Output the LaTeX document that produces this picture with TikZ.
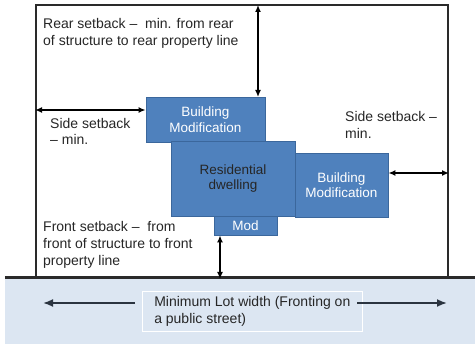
\documentclass[tikz,border=0pt]{standalone}
\usepackage{fontspec}
\setmainfont{Liberation Sans}
\usetikzlibrary{arrows.meta}

\definecolor{bldfill}{HTML}{4F81BD}
\definecolor{bldline}{HTML}{3B679C}
\definecolor{streetfill}{HTML}{DCE6F2}
\definecolor{lotline}{HTML}{2A2A2A}
\definecolor{streetarrow}{HTML}{2B3440}

\tikzset{
  bld/.style={draw=bldline, fill=bldfill, line width=0.8pt, text=white,
    align=center, inner sep=0pt, font=\fontsize{13.5}{15.5}\selectfont},
  note/.style={anchor=west, align=left, inner sep=0pt,
    font=\fontsize{14}{16.8}\selectfont, text=black!85},
  dim/.style={{Latex[length=7pt,width=6pt]}-{Latex[length=7pt,width=6pt]}, line width=1.5pt},
}

\begin{document}
\begin{tikzpicture}[x=1pt,y=-1pt]
  \useasboundingbox (0,0) rectangle (475,345);
  \node[fill=streetfill, minimum width=470, minimum height=66, inner sep=0pt] (street) at (240,310.5) {};
  \node[draw=lotline, line width=2pt, minimum width=412, minimum height=273, inner sep=0pt] (lot) at (242,141.5) {};
  \draw[lotline, line width=2.5pt] (street.north west) -- (street.north east);

  \node[bld, minimum width=119, minimum height=45] (bmtop) at (205.5,119.5) {Building\\Modification};
  \node[bld, minimum width=124, minimum height=75, text=black!85] (res) at (233,178.5) {Residential\\dwelling};
  \node[bld, minimum width=93, minimum height=64] (bmright) at (341.5,185) {Building\\Modification};
  \node[bld, minimum width=63, minimum height=19] (mod) at (245.5,225.5) {Mod};

  \node[note] (rear) at (43,33.5) {Rear setback –\ \ min. from rear\\of structure to rear property line};
  \node[note] (sidel) at (50,131.5) {Side setback\\– min.};
  \node[note] (sider) at (345,125) {Side setback –\\min.};
  \node[note] (front) at (43,245) {Front setback –\ \ from\\front of structure to front\\property line};
  \node[note, draw=white, line width=0.6pt, inner xsep=6pt, minimum width=220, minimum height=40] (width) at (142,311)
    {Minimum Lot width (Fronting on\\a public street)};

  \coordinate (rtop) at (258,5);
  \coordinate (rbot) at (258,97);
  \draw[dim] (rtop) -- (rbot);
  \draw[dim] (lot.west |- 0,110) -- (bmtop.west |- 0,110);
  \draw[dim] (bmright.east |- 0,173) -- (lot.east |- 0,173);
  \draw[dim] (mod.south -| 220,0) -- (lot.south -| 220,0);
  \draw[streetarrow, line width=1.8pt, -{Latex[length=10pt,width=8pt]}] (135,303) -- (43,303);
  \draw[streetarrow, line width=1.8pt, -{Latex[length=10pt,width=8pt]}] (357,303) -- (447,303);
\end{tikzpicture}
\end{document}
